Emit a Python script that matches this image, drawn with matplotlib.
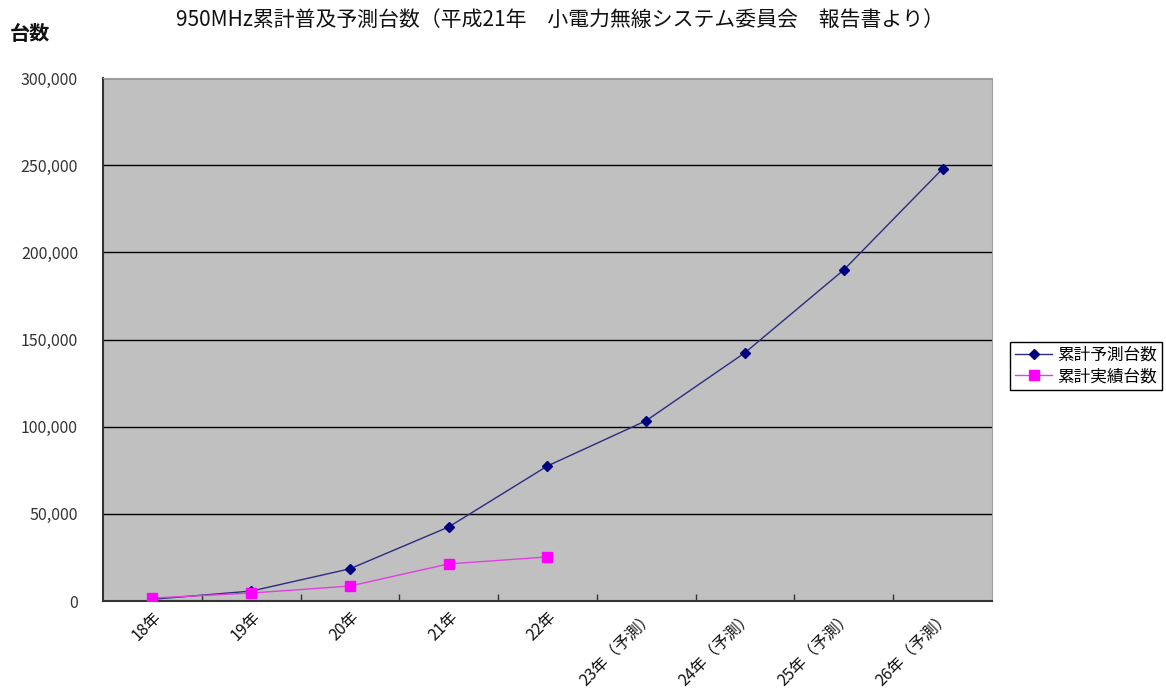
import matplotlib.pyplot as plt
import matplotlib.ticker as mticker

plt.rcParams['font.family'] = ['Noto Sans CJK JP', 'DejaVu Sans']

# ---------------------------------------------------------------------------
# Data
# ---------------------------------------------------------------------------
CATEGORIES = ["18年", "19年", "20年", "21年", "22年",
              "23年（予測）", "24年（予測）", "25年（予測）", "26年（予測）"]
FORECAST = [1000, 5700, 18500, 42500, 77500, 103500, 142500, 190000, 248000]
ACTUAL = [1700, 4600, 8600, 21300, 25300]

TITLE = "950MHz累計普及予測台数（平成21年　小電力無線システム委員会　報告書より）"
Y_LABEL = "台数"

# ---------------------------------------------------------------------------
# Plot
# ---------------------------------------------------------------------------
fig = plt.figure(figsize=(11.66, 6.91), dpi=100)
ax = fig.add_axes([0.0883, 0.1302, 0.7625, 0.7568])
ax.set_facecolor("#c0c0c0")

x_f = list(range(len(FORECAST)))
x_a = list(range(len(ACTUAL)))

ax.plot(x_f, FORECAST, color="#2b2b80", linewidth=1.0, marker="D",
        markersize=5, markerfacecolor="#000080", markeredgecolor="#000080",
        label="累計予測台数", zorder=3)
ax.plot(x_a, ACTUAL, color="#e040e0", linewidth=1.0, marker="s",
        markersize=7, markerfacecolor="#ff00ff", markeredgecolor="#ff00ff",
        label="累計実績台数", zorder=4)

ax.set_xlim(-0.5, len(CATEGORIES) - 0.5)
ax.set_ylim(0, 300000)

ax.set_xticks(x_f)
ax.set_xticklabels(CATEGORIES, rotation=45, ha="right", rotation_mode="anchor",
                   fontsize=11.5, color="#111111")
ax.tick_params(axis="x", which="major", length=0, pad=5.5)
ax.set_xticks([i + 0.5 for i in range(len(CATEGORIES) - 1)], minor=True)
ax.tick_params(axis="x", which="minor", length=5, direction="in",
               color="#333333", width=1.0)

ax.set_yticks(range(0, 300001, 50000))
ax.yaxis.set_major_formatter(mticker.FuncFormatter(lambda v, p: f"{int(v):,}"))
ax.tick_params(axis="y", length=0, pad=18, labelsize=11.5, labelcolor="#333333")

ax.yaxis.grid(True, color="black", linewidth=1.0)
ax.set_axisbelow(True)

for side in ("left", "bottom"):
    ax.spines[side].set_color("#333333")
    ax.spines[side].set_linewidth(1.5)
ax.spines["top"].set_color("#a0a0a0")
ax.spines["right"].set_color("#a0a0a0")

fig.text(560 / 1166, 1 - 20 / 691, TITLE, fontsize=15, ha="center", va="center",
         color="#111111")
fig.text(10 / 1166, 1 - 33 / 691, Y_LABEL, fontsize=14.5, ha="left", va="center",
         fontweight="bold", color="#111111")

fig.legend(loc="center left", bbox_to_anchor=(1002 / 1166, 1 - 366 / 691),
           frameon=True, fancybox=False, edgecolor="black", framealpha=1,
           fontsize=12, handlelength=2.2, borderpad=0.3, labelspacing=0.25,
           handletextpad=0.3)

fig.savefig("out.png", dpi=100)
